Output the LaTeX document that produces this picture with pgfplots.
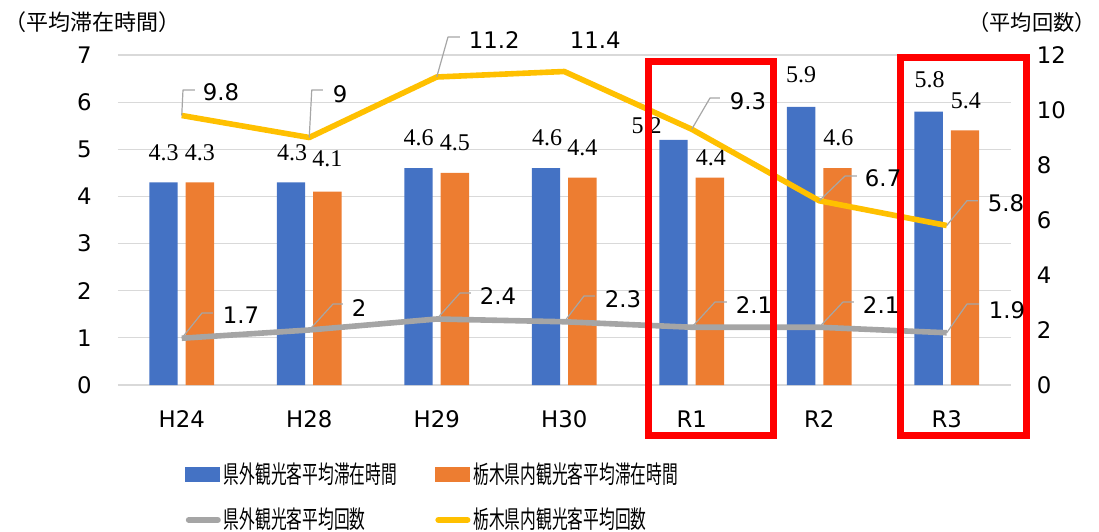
\documentclass[border=0pt]{standalone}
\usepackage{fontspec}
\usepackage{pgfplots}
\pgfplotsset{compat=1.18}
\usepackage{pgfplotstable}
\newfontfamily\cjk{Noto Sans CJK JP}
\newfontfamily\cjkc[FakeStretch=0.64]{Noto Sans CJK JP}
\newfontfamily\djs{DejaVu Sans}
\newfontfamily\lser{Liberation Serif}
\definecolor{cblue}{HTML}{4472C4}
\definecolor{corange}{HTML}{ED7D31}
\definecolor{cgray}{HTML}{A5A5A5}
\definecolor{cyellow}{HTML}{FFC000}
\definecolor{cgrid}{HTML}{D9D9D9}
\definecolor{cleader}{HTML}{A6A6A6}
\definecolor{cred}{HTML}{FF0000}

% bars: x, value, label offset (px)
\pgfplotstableread{
x y dx dy
0 4.3 0 30
1 4.3 1 30
2 4.6 0 30
3 4.6 1 30
4 5.2 -27 14.5
5 5.9 0 32
6 5.8 1 31.5
}\tblBlue
\pgfplotstableread{
x y dx dy
0 4.3 0 30
1 4.1 0 32.5
2 4.5 0 30.5
3 4.4 0 30
4 4.4 1 20
5 4.6 1 30.5
6 5.4 1 30
}\tblOrange
% lines: x, value, leader and label geometry (px)
\pgfplotstableread{
x y lx ly hx tx ty
0 1.7 20.25 25.25 31.25 41.25 23.25
1 2 23.75 26 33.75 42.75 21.5
2 2.4 23.25 26 34.25 43.25 22.5
3 2.3 19.75 25.75 30.75 40.75 22.75
4 2.1 23.25 25.25 35.25 44.25 21.75
5 2.1 23.75 25.25 34.75 43.75 21.75
6 1.9 20.25 28.75 32.25 42.25 22.75
}\tblGray
\pgfplotstableread{
x y lx ly hx tx ty
0 9.8 1.25 25.5 13.25 21.25 23
1 9 2.5 47.5 13.75 23.75 43
2 11.2 11.25 40 23.25 32.25 37
3 11.4 0 0 0 5.75 31.5
4 9.3 18.25 31.25 28.25 38.25 27.75
5 6.7 25.75 24.75 37.75 45.75 22.25
6 5.8 20.25 24.8 31.25 41.25 22
}\tblYellow

\newcommand\leadlbl[1]{\tikz{\path[draw=none, fill=none] (-80pt,-40pt) rectangle (80pt,40pt);
  \draw[draw=cleader, line width=0.6pt] (0pt,0pt) -- (\lx*0.5pt,\ly*0.5pt) -- (\hx*0.5pt,\ly*0.5pt);
  \node[anchor=west, inner sep=0pt, draw=none, font=\djs\fontsize{11.4}{13}\selectfont, text=black] at (\tx*0.5pt,\ty*0.5pt) {#1};}}

\pgfplotsset{
  common/.style={
    scale only axis, width=446.25pt, height=165pt,
    xmin=-0.5, xmax=6.5, clip=false,
    major tick length=0pt, tick style={draw=none},
    axis line style={draw=none},
    ticklabel style={font=\djs\fontsize{11.4}{13}\selectfont},
    /pgf/number format/assume math mode=true,
  },
  barlbl/.style={
    point meta=explicit symbolic,
    nodes near coords,
    visualization depends on={\thisrow{dx}\as\dx},
    visualization depends on={\thisrow{dy}\as\dy},
    every node near coord/.append style={anchor=center, inner sep=0pt, xshift=\dx*0.5pt, yshift=\dy*0.5pt, font=\lser\fontsize{12}{14}\selectfont, text=black},
  },
  linelbl/.style={
    point meta=explicit symbolic, nodes near coords={\leadlbl{\pgfplotspointmeta}},
    visualization depends on={\thisrow{lx}\as\lx},
    visualization depends on={\thisrow{ly}\as\ly},
    visualization depends on={\thisrow{hx}\as\hx},
    visualization depends on={\thisrow{tx}\as\tx},
    visualization depends on={\thisrow{ty}\as\ty},
    every node near coord/.append style={anchor=center, inner sep=0pt, outer sep=0pt, draw=none},
  },
}

\begin{document}
\begin{tikzpicture}
\begin{axis}[common,
  ymin=0, ymax=7, ytick={0,...,7},
  ymajorgrids, major grid style={draw=cgrid, line width=0.6pt},
  xtick={0,...,6}, xticklabels={H24,H28,H29,H30,R1,R2,R3},
  xticklabel style={anchor=north, inner sep=0pt, yshift=-12.5pt},
  yticklabel style={anchor=east, inner sep=0pt, xshift=-13pt},
  ybar=4pt, bar width=14.2pt,
]
\addplot[fill=cblue, draw=none, barlbl] table[x=x, y=y, meta=y] {\tblBlue};
\addplot[fill=corange, draw=none, barlbl] table[x=x, y=y, meta=y] {\tblOrange};
\end{axis}
\begin{axis}[common,
  ymin=0, ymax=12, ytick={0,2,...,12},
  axis y line*=right, axis x line=none,
  yticklabel style={anchor=west, inner sep=0pt, xshift=13pt},
  legend columns=2,
  legend cell align=left,
  legend style={draw=none, fill=none, at={(0.07507,-0.2333)}, anchor=north west,
    inner sep=0pt, row sep=11pt,
    font=\cjkc\fontsize{12.3}{13}\selectfont,
    nodes={inner sep=0pt, inner xsep=1.5pt},
    /tikz/every even column/.append style={column sep=17.5pt}},
]
\addlegendimage{legend image code/.code={\fill[cblue] (0pt,-3.5pt) rectangle (17pt,3.5pt);}}
\addlegendentry{県外観光客平均滞在時間}
\addlegendimage{legend image code/.code={\fill[corange] (0pt,-3.5pt) rectangle (17pt,3.5pt);}}
\addlegendentry{栃木県内観光客平均滞在時間}
\addlegendimage{legend image code/.code={\draw[cgray, line width=3pt, line cap=round] (1.5pt,0pt) -- (16pt,0pt);}}
\addlegendentry{県外観光客平均回数}
\addlegendimage{legend image code/.code={\draw[cyellow, line width=3pt, line cap=round] (1.5pt,0pt) -- (16pt,0pt);}}
\addlegendentry{栃木県内観光客平均回数}

\addplot[forget plot, draw=cgray, line width=2.8pt, mark=none, line join=round, linelbl]
  table[x=x, y=y, meta=y] {\tblGray};
\addplot[forget plot, draw=cyellow, line width=2.8pt, mark=none, line join=round, linelbl]
  table[x=x, y=y, meta=y] {\tblYellow};

\draw[cred, line width=3.5pt] (rel axis cs:0.5944,-0.1545) rectangle (rel axis cs:0.7350,0.9818);
\draw[cred, line width=3.5pt] (rel axis cs:0.8762,-0.1545) rectangle (rel axis cs:1.0174,0.9924);
\end{axis}
\node[font=\cjk\fontsize{11}{13}\selectfont] at (-12.75pt,181.5pt) {（平均滞在時間）};
\node[font=\cjk\fontsize{10.6}{13}\selectfont] at (457pt,181.5pt) {（平均回数）};
\pgfresetboundingbox
\path (-59pt,-73pt) rectangle (490.5pt,192.5pt);
\end{tikzpicture}
\end{document}
